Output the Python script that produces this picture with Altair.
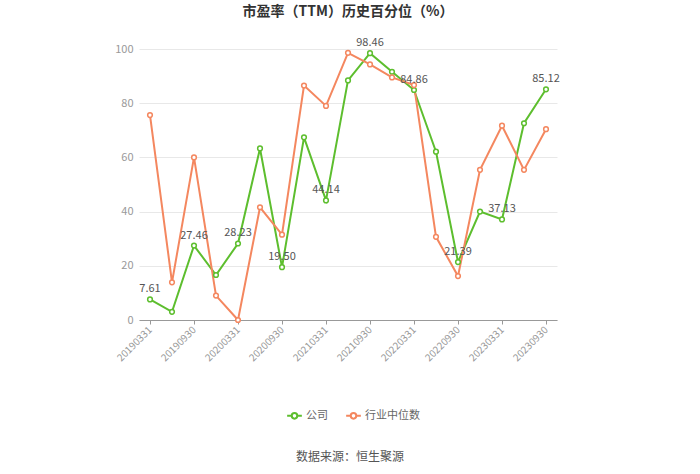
import altair as alt
import pandas as pd

dates = ["20190331", "20190630", "20190930", "20191231",
         "20200331", "20200630", "20200930", "20201231",
         "20210331", "20210630", "20210930", "20211231",
         "20220331", "20220630", "20220930", "20221231",
         "20230331", "20230630", "20230930"]
company = [7.61, 3.0, 27.46, 16.6, 28.23, 63.3, 19.50, 67.4, 44.14, 88.4,
           98.46, 91.6, 84.86, 62.1, 21.39, 40.0, 37.13, 72.6, 85.12]
industry = [75.6, 13.9, 60.0, 9.0, 0.0, 41.6, 31.5, 86.5, 79.0, 98.6,
            94.3, 89.5, 86.7, 30.7, 16.2, 55.4, 71.7, 55.4, 70.4]
labeled = dates[::2]
series_names = ["公司", "行业中位数"]
colors = ["#5dbe2e", "#f4875f"]

rows = []
for i, d in enumerate(dates):
    rows.append({"date": d, "series": series_names[0], "value": company[i],
                 "label": f"{company[i]:.2f}" if d in labeled else ""})
    rows.append({"date": d, "series": series_names[1], "value": industry[i], "label": ""})
df = pd.DataFrame(rows)

FONT = "Noto Sans CJK SC"

x = alt.X("date:N", sort=dates,
          scale=alt.Scale(type="point", padding=0.5),
          axis=alt.Axis(values=labeled, labelAngle=-45, labelAlign="right",
                        labelBaseline="middle", labelColor="#999999", labelFontSize=10,
                        domainColor="#999999", tickColor="#999999", tickSize=4,
                        labelPadding=4, title=None, grid=False, labelFont=FONT))
y = alt.Y("value:Q", scale=alt.Scale(domain=[0, 100], nice=False),
          axis=alt.Axis(values=[0, 20, 40, 60, 80, 100], labelColor="#999999",
                        labelFontSize=11, domain=False, ticks=False, gridColor="#e8e8e8",
                        labelPadding=6, title=None, labelFont=FONT))
color = alt.Color("series:N", sort=series_names,
                  scale=alt.Scale(domain=series_names, range=colors),
                  legend=alt.Legend(orient="none", legendX=148, legendY=359, direction="horizontal",
                                    title=None, symbolType="M-1.2,0 L-0.45,0 M0.45,0 L1.2,0 M-0.45,0 A0.45,0.45 0 1,1 0.45,0 A0.45,0.45 0 1,1 -0.45,0",
                                    symbolSize=150, symbolStrokeWidth=2, symbolFillColor="white",
                                    labelColor="#666666", labelFontSize=11, labelFont=FONT,
                                    columnPadding=14))

base = alt.Chart(df)
lines = base.mark_line(strokeWidth=2).encode(x=x, y=y, color=color)
points = base.mark_point(filled=True, fill="white", size=22, strokeWidth=1.5, opacity=1).encode(
    x=x, y=y, stroke=alt.Stroke("series:N", scale=alt.Scale(domain=series_names, range=colors), legend=None))
labels = base.transform_filter(alt.datum.label != "").mark_text(
    dy=-10, fontSize=11, color="#555555", font=FONT).encode(x=x, y=y, text="label:N")
source = alt.Chart(pd.DataFrame({"t": ["数据来源：恒生聚源"]})).mark_text(
    fontSize=12, color="#555555", font=FONT).encode(
    text="t:N", x=alt.value(211), y=alt.value(408))

chart = alt.layer(lines, points, labels, source).properties(
    width=418, height=271,
    autosize=alt.AutoSizeParams(type="none"),
    padding={"left": 139, "top": 49, "right": 143, "bottom": 154},
    title=alt.Title("市盈率（TTM）历史百分位（%）", font=FONT, fontSize=14, fontWeight="bold",
                    color="#333333", anchor="middle", offset=18),
).configure(background="white", view=alt.ViewConfig(strokeWidth=0, stroke="transparent"))

chart.save("out.html", embed_options={"renderer": "svg", "actions": False})
